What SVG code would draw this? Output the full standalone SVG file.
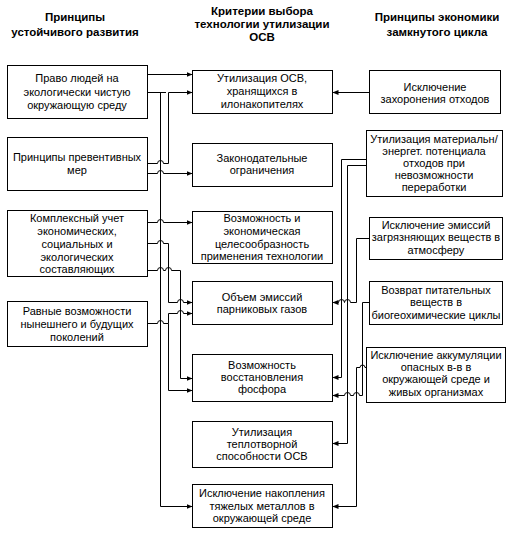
<svg xmlns="http://www.w3.org/2000/svg" width="522" height="536" viewBox="0 0 522 536">
<style>
.box{fill:#fff;stroke:#000;stroke-width:1}
.t{font-family:"Liberation Sans",Arial,sans-serif;font-size:11px;fill:#000;text-anchor:middle}
.h{font-family:"Liberation Sans",Arial,sans-serif;font-size:11.5px;font-weight:bold;fill:#000;text-anchor:middle}
.c{fill:none;stroke:#000;stroke-width:1}
</style>
<defs>
<marker id="a" markerUnits="userSpaceOnUse" markerWidth="6" markerHeight="6" refX="6" refY="3" orient="auto">
<path d="M0,0.5 L6,3 L0,5.5 z" fill="#000"/>
</marker>
</defs>
<rect width="522" height="536" fill="#fff"/>
<g id="headers">
<text class="h" x="75" y="21">Принципы</text>
<text class="h" x="75" y="36">устойчивого развития</text>
<text class="h" x="262" y="15">Критерии выбора</text>
<text class="h" x="262" y="28">технологии утилизации</text>
<text class="h" x="262" y="41">ОСВ</text>
<text class="h" x="437" y="21">Принципы экономики</text>
<text class="h" x="437" y="36">замкнутого цикла</text>
</g>
<g id="L1"><rect class="box" x="7.5" y="65.5" width="140" height="53"/>
<text class="t" x="77"><tspan x="77" y="82">Право людей на</tspan><tspan x="77" y="96">экологически чистую</tspan><tspan x="77" y="109">окружающую среду</tspan></text></g>
<g id="L2"><rect class="box" x="7.5" y="137.5" width="140" height="53"/>
<text class="t"><tspan x="77" y="161">Принципы превентивных</tspan><tspan x="77" y="174">мер</tspan></text></g>
<g id="L3"><rect class="box" x="7.5" y="210.5" width="140" height="66"/>
<text class="t"><tspan x="77" y="222">Комплексный учет</tspan><tspan x="77" y="235">экономических,</tspan><tspan x="77" y="248">социальных и</tspan><tspan x="77" y="261">экологических</tspan><tspan x="77" y="273">составляющих</tspan></text></g>
<g id="L4"><rect class="box" x="7.5" y="301.5" width="140" height="45"/>
<text class="t"><tspan x="77" y="315">Равные возможности</tspan><tspan x="77" y="328">нынешнего и будущих</tspan><tspan x="77" y="341">поколений</tspan></text></g>
<g id="M1"><rect class="box" x="192.5" y="70.5" width="140" height="43"/>
<text class="t"><tspan x="262" y="82">Утилизация ОСВ,</tspan><tspan x="262" y="95">хранящихся в</tspan><tspan x="262" y="108">илонакопителях</tspan></text></g>
<g id="M2"><rect class="box" x="192.5" y="143.5" width="140" height="43"/>
<text class="t"><tspan x="262" y="162">Законодательные</tspan><tspan x="262" y="174">ограничения</tspan></text></g>
<g id="M3"><rect class="box" x="192.5" y="211.5" width="140" height="52"/>
<text class="t"><tspan x="262" y="222">Возможность и</tspan><tspan x="262" y="235">экономическая</tspan><tspan x="262" y="248">целесообразность</tspan><tspan x="262" y="260">применения технологии</tspan></text></g>
<g id="M4"><rect class="box" x="192.5" y="281.5" width="140" height="43"/>
<text class="t"><tspan x="262" y="301">Объем эмиссий</tspan><tspan x="262" y="313">парниковых газов</tspan></text></g>
<g id="M5"><rect class="box" x="192.5" y="354.5" width="140" height="47"/>
<text class="t"><tspan x="262" y="369">Возможность</tspan><tspan x="262" y="381">восстановления</tspan><tspan x="262" y="393">фосфора</tspan></text></g>
<g id="M6"><rect class="box" x="192.5" y="421.5" width="140" height="46"/>
<text class="t"><tspan x="262" y="436">Утилизация</tspan><tspan x="262" y="448">теплотворной</tspan><tspan x="262" y="460">способности ОСВ</tspan></text></g>
<g id="M7"><rect class="box" x="192.5" y="484.5" width="140" height="43"/>
<text class="t"><tspan x="262" y="497">Исключение накопления</tspan><tspan x="262" y="510">тяжелых металлов в</tspan><tspan x="262" y="522">окружающей среде</tspan></text></g>
<g id="R1"><rect class="box" x="369.5" y="70.5" width="131" height="43"/>
<text class="t"><tspan x="435" y="91">Исключение</tspan><tspan x="435" y="103">захоронения отходов</tspan></text></g>
<g id="R2"><rect class="box" x="366.5" y="130.5" width="136" height="66"/>
<text class="t"><tspan x="434" y="143">Утилизация материальн/</tspan><tspan x="434" y="155">энергет. потенциала</tspan><tspan x="434" y="167">отходов при</tspan><tspan x="434" y="179">невозможности</tspan><tspan x="434" y="191">переработки</tspan></text></g>
<g id="R3"><rect class="box" x="369.5" y="217.5" width="133" height="42"/>
<text class="t"><tspan x="436" y="229">Исключение эмиссий</tspan><tspan x="436" y="241">загрязняющих веществ в</tspan><tspan x="436" y="254">атмосферу</tspan></text></g>
<g id="R4"><rect class="box" x="369.5" y="281.5" width="133" height="43"/>
<text class="t"><tspan x="436" y="294">Возврат питательных</tspan><tspan x="436" y="306">веществ в</tspan><tspan x="436" y="319">биогеохимические циклы</tspan></text></g>
<g id="R5"><rect class="box" x="366.5" y="347.5" width="139" height="55"/>
<text class="t"><tspan x="436" y="359">Исключение аккумуляции</tspan><tspan x="436" y="371">опасных в-в в</tspan><tspan x="436" y="383">окружающей среде и</tspan><tspan x="436" y="396">живых организмах</tspan></text></g>
<g id="connectors" class="c">
<path class="c" marker-end="url(#a)" d="M147.5,74.5 H192.5"/>
<path class="c" marker-end="url(#a)" d="M147.5,92.5 H166 M160.5,92.5 V506.5 H192.5"/>
<path class="c" marker-end="url(#a)" d="M147.5,163.5 H157.5 A3,3 0 0 1 163.5,163.5 H168.5 V92.5 H192.5"/>
<path class="c" marker-end="url(#a)" d="M147.5,173.5 H157.5 A3,3 0 0 1 163.5,173.5 H192.5"/>
<path class="c" marker-end="url(#a)" d="M147.5,222.5 H157.5 A3,3 0 0 1 163.5,222.5 H192.5"/>
<path class="c" marker-end="url(#a)" d="M147.5,243.5 H157.5 A3,3 0 0 1 163.5,243.5 H168.5 V302.5 H177.5 A3,3 0 0 1 183.5,302.5 H192.5"/>
<path class="c" marker-end="url(#a)" d="M147.5,270.5 H157.5 A3,3 0 0 1 163.5,270.5 H165.5 A3,3 0 0 1 171.5,270.5 H180.5 V378.5 H192.5"/>
<path class="c" marker-end="url(#a)" d="M147.5,323.5 H157.5 A3,3 0 0 1 163.5,323.5 H168.5 V313.5 H177.5 A3,3 0 0 1 183.5,313.5 H192.5"/>
<path class="c" marker-end="url(#a)" d="M168.5,323.5 V390.5 H192.5"/>
<path class="c" marker-end="url(#a)" d="M369.5,92.5 H332.5"/>
<path class="c" marker-end="url(#a)" d="M366.5,159.5 H341.5 V377.5 H332.5"/>
<path class="c" marker-end="url(#a)" d="M366.5,165.5 H347.5 V443.5 H332.5"/>
<path class="c" marker-end="url(#a)" d="M369.5,238.5 H356.5 V302.5 H350.5 A3,3 0 0 0 344.5,302.5 A3,3 0 0 0 338.5,302.5 H332.5"/>
<path class="c" marker-end="url(#a)" d="M369.5,302.5 H362.5 V395.5 H359.5 A3,3 0 0 0 353.5,395.5 H350.5 A3,3 0 0 0 344.5,395.5 H332.5"/>
<path class="c" marker-end="url(#a)" d="M366.5,367.5 H365 A2.5,2.5 0 0 0 360,367.5 H356.5 V506.5 H332.5"/>
</g>
</svg>
